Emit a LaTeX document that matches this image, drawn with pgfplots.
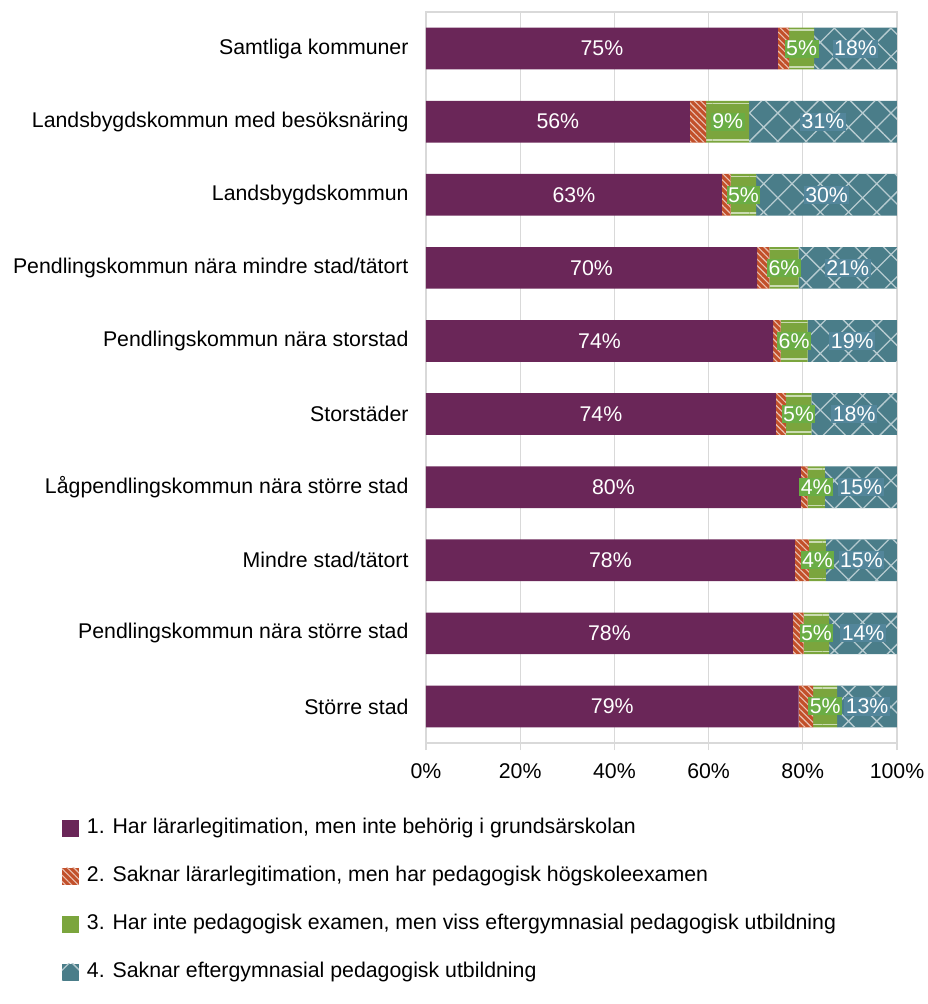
\documentclass[border=0pt]{standalone}
\usepackage{fontspec}
\setmainfont{Liberation Sans}
\usepackage{pgfplots}
\usepackage{pgfplotstable}
\pgfplotsset{compat=1.18}
\usetikzlibrary{patterns.meta}
\definecolor{cP}{HTML}{6A2658}
\definecolor{cO}{HTML}{C2502A}
\definecolor{cG}{HTML}{7BA53D}
\definecolor{cB}{HTML}{4A7D89}
\definecolor{lG}{HTML}{6AAD45}
\definecolor{lB}{HTML}{53869B}
\definecolor{gridgray}{HTML}{D9D9D9}
\newcommand{\chfont}{\fontsize{21.3bp}{25bp}\selectfont}
\tikzset{
  s1/.style={fill=cP, draw=none},
  s2/.style={fill=cO, draw=none, postaction={pattern color=cO!35!white, pattern={Lines[angle=-45,distance=4.5bp,line width=1.1bp]}}},
  s3/.style={fill=cG, draw=none, postaction={pattern color=cG!40!white, pattern={Lines[angle=0,distance=36.55bp,yshift=23.45bp,line width=1.6bp]}}},
  s4/.style={fill=cB, draw=none, postaction={pattern color=cB!40!white, pattern={Hatch[angle=45,distance=20bp,line width=1.3bp]}}},
}
% y: 0 = top row
\pgfplotstableread{
y   P     O    G    B     pl  gl  bl
0   74.7  2.4  5.3  17.6  75  5  18
1   56.0  3.5  9.1  31.4  56  9  31
2   62.8  1.9  5.4  29.9  63  5  30
3   70.3  2.6  6.2  20.9  70  6  21
4   73.7  1.6  5.7  19.0  74  6  19
5   74.3  2.1  5.4  18.2  74  5  18
6   79.6  1.4  3.7  15.3  80  4  15
7   78.3  3.0  3.6  15.1  78  4  15
8   77.9  2.3  5.4  14.4  78  5  14
9   79.1  3.1  5.1  12.7  79  5  13
}\data
\begin{document}
\begin{tikzpicture}
\begin{axis}[
  scale only axis, width=471bp, height=731bp,
  font=\chfont,
  xbar stacked, bar width=41.7bp,
  xmin=0, xmax=100, ymin=-0.5, ymax=9.5, y dir=reverse,
  ytick={0,...,9},
  yticklabels={Samtliga kommuner, Landsbygdskommun med besöksnäring, Landsbygdskommun, Pendlingskommun nära mindre stad/tätort, Pendlingskommun nära storstad, Storstäder, Lågpendlingskommun nära större stad, Mindre stad/tätort, Pendlingskommun nära större stad, Större stad},
  yticklabel style={xshift=-7bp},
  xtick={0,20,40,60,80,100},
  xticklabels={0\%,20\%,40\%,60\%,80\%,100\%},
  xticklabel style={yshift=-10bp},
  /pgf/number format/assume math mode=true,
  xmajorgrids, major grid style={draw=gridgray, line width=1.3bp},
  axis line style={draw=gridgray, line width=1.3bp},
  xtick style={draw=gridgray, line width=1.3bp},
  ytick style={draw=none},
  major tick length=7bp, tick align=outside, xtick pos=bottom,
  legend style={at={(-0.773,-0.102)}, anchor=north west, draw=none, fill=none,
    inner sep=0bp, outer sep=0bp, row sep=27bp, column sep=8bp,
    nodes={inner sep=0bp, text height=16bp, text depth=5bp}},
  legend cell align=left,
  legend image code/.code={\path[#1] (0bp,-8.5bp) rectangle (17bp,8.5bp);},
  point meta=explicit,
  nodes near coords={\pgfmathprintnumber[fixed,precision=0]{\pgfplotspointmeta}\%},
]
\addplot[s1, every node near coord/.append style={text=white, font=\chfont, inner sep=1bp}]
  table[x=P, y=y, meta=pl] {\data};
\addplot[s2, nodes near coords={}] table[x=O, y=y, meta=pl] {\data};
\addplot[s3, every node near coord/.append style={text=white, fill=lG, font=\chfont, inner sep=1.5bp}]
  table[x=G, y=y, meta=gl] {\data};
\addplot[s4, every node near coord/.append style={text=white, fill=lB, font=\chfont, inner sep=1.5bp}]
  table[x=B, y=y, meta=bl] {\data};
\legend{{1. Har lärarlegitimation, men inte behörig i grundsärskolan},
        {2. Saknar lärarlegitimation, men har pedagogisk högskoleexamen},
        {3. Har inte pedagogisk examen, men viss eftergymnasial pedagogisk utbildning},
        {4. Saknar eftergymnasial pedagogisk utbildning}}
\end{axis}
\path (current axis.south west) ++(-426bp,-261bp) rectangle ++(927bp,1004bp);
\end{tikzpicture}
\end{document}
